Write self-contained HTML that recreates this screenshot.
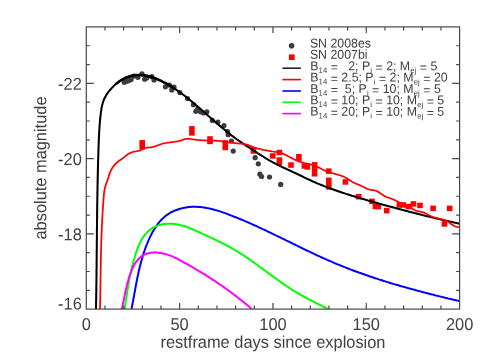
<!DOCTYPE html><html><head><meta charset="utf-8"><title>Magnetar light curves</title>
<style>html,body{margin:0;padding:0;background:#fff}svg{display:block;will-change:transform}text{font-family:"Liberation Sans",sans-serif;fill:#404040}</style></head><body>
<svg width="485" height="364" viewBox="0 0 485 364">
<rect width="485" height="364" fill="#fff"/>
<defs><clipPath id="c"><rect x="86.3" y="26.9" width="373.3" height="282.2"/></clipPath></defs>
<g clip-path="url(#c)">
<g fill="#3c3c3c">
<circle cx="128.8" cy="80.6" r="2.6"/>
<circle cx="124.3" cy="82.3" r="2.6"/>
<circle cx="126.8" cy="81.3" r="2.6"/>
<circle cx="131.1" cy="79.6" r="2.6"/>
<circle cx="134.2" cy="76.1" r="2.6"/>
<circle cx="137.9" cy="77.3" r="2.6"/>
<circle cx="142.0" cy="73.9" r="2.6"/>
<circle cx="144.7" cy="79.2" r="2.6"/>
<circle cx="146.6" cy="77.9" r="2.6"/>
<circle cx="151.9" cy="76.7" r="2.6"/>
<circle cx="154.0" cy="80.0" r="2.6"/>
<circle cx="165.4" cy="86.8" r="2.6"/>
<circle cx="169.4" cy="85.1" r="2.6"/>
<circle cx="171.8" cy="89.9" r="2.6"/>
<circle cx="174.0" cy="87.0" r="2.6"/>
<circle cx="179.8" cy="92.6" r="2.6"/>
<circle cx="187.5" cy="98.5" r="2.6"/>
<circle cx="193.4" cy="104.7" r="2.6"/>
<circle cx="195.8" cy="111.3" r="2.6"/>
<circle cx="197.7" cy="109.0" r="2.6"/>
<circle cx="200.6" cy="111.8" r="2.6"/>
<circle cx="203.5" cy="113.0" r="2.6"/>
<circle cx="206.9" cy="111.8" r="2.6"/>
<circle cx="212.3" cy="120.4" r="2.6"/>
<circle cx="217.9" cy="122.0" r="2.6"/>
<circle cx="224.0" cy="125.6" r="2.6"/>
<circle cx="227.6" cy="131.5" r="2.6"/>
<circle cx="228.2" cy="134.7" r="2.6"/>
<circle cx="231.5" cy="141.0" r="2.6"/>
<circle cx="233.2" cy="151.1" r="2.6"/>
<circle cx="255.1" cy="157.7" r="2.6"/>
<circle cx="258.3" cy="163.8" r="2.6"/>
<circle cx="259.9" cy="174.2" r="2.6"/>
<circle cx="261.6" cy="176.5" r="2.6"/>
<circle cx="269.5" cy="177.0" r="2.6"/>
<circle cx="280.7" cy="184.4" r="2.6"/>
</g><g fill="#ff0000">
<rect x="139.4" y="140.1" width="5.6" height="9.4"/>
<rect x="189.1" y="126.1" width="5.6" height="9.5"/>
<rect x="207.2" y="136.2" width="5.6" height="8.0"/>
<rect x="222.5" y="140.2" width="5.6" height="10.0"/>
<rect x="250.6" y="147.1" width="5.6" height="6.6"/>
<rect x="270.0" y="153.2" width="5.6" height="5.5"/>
<rect x="276.6" y="149.7" width="5.6" height="5.5"/>
<rect x="276.6" y="157.3" width="5.6" height="8.0"/>
<rect x="288.2" y="162.3" width="5.6" height="5.5"/>
<rect x="296.1" y="154.0" width="5.6" height="7.0"/>
<rect x="301.6" y="163.2" width="5.6" height="5.5"/>
<rect x="304.5" y="164.2" width="5.6" height="5.5"/>
<rect x="311.8" y="162.1" width="5.6" height="14.4"/>
<rect x="326.0" y="168.4" width="5.6" height="5.5"/>
<rect x="326.0" y="177.6" width="5.6" height="12.0"/>
<rect x="342.6" y="179.2" width="5.6" height="5.5"/>
<rect x="355.9" y="193.9" width="5.6" height="5.5"/>
<rect x="369.2" y="198.6" width="5.6" height="5.5"/>
<rect x="372.7" y="203.6" width="5.6" height="5.5"/>
<rect x="375.4" y="203.9" width="5.6" height="5.5"/>
<rect x="383.9" y="207.9" width="5.6" height="5.5"/>
<rect x="396.6" y="202.2" width="5.6" height="5.5"/>
<rect x="400.5" y="202.2" width="5.6" height="5.5"/>
<rect x="405.8" y="203.8" width="5.6" height="5.5"/>
<rect x="410.7" y="201.2" width="5.6" height="5.5"/>
<rect x="417.2" y="202.7" width="5.6" height="5.5"/>
<rect x="430.3" y="205.6" width="5.6" height="5.5"/>
<rect x="446.9" y="205.6" width="5.6" height="5.5"/>
<rect x="441.6" y="221.2" width="5.6" height="5.5"/>
</g>
<g fill="none" stroke-linejoin="round" stroke-linecap="butt">
<path d="M96.0 309.5 L96.0 308.0 L96.0 306.5 L96.1 305.0 L96.1 303.5 L96.1 302.0 L96.1 300.5 L96.2 299.0 L96.2 297.4 L96.2 295.9 L96.2 294.4 L96.3 292.9 L96.3 291.4 L96.3 289.9 L96.3 288.4 L96.3 286.9 L96.4 285.4 L96.4 283.9 L96.4 282.4 L96.4 280.9 L96.4 279.4 L96.5 277.9 L96.5 276.4 L96.5 274.9 L96.5 273.3 L96.5 271.8 L96.5 270.3 L96.6 268.8 L96.6 267.3 L96.6 265.8 L96.6 264.3 L96.6 262.8 L96.6 261.3 L96.7 259.8 L96.7 258.3 L96.7 256.8 L96.7 255.3 L96.7 253.8 L96.7 252.2 L96.7 250.7 L96.8 249.2 L96.8 247.7 L96.8 246.2 L96.8 244.7 L96.8 243.2 L96.8 241.7 L96.8 240.2 L96.9 238.7 L96.9 237.2 L96.9 235.7 L96.9 234.2 L96.9 232.7 L96.9 231.2 L96.9 229.6 L97.0 228.1 L97.0 226.6 L97.0 225.1 L97.0 223.6 L97.0 222.1 L97.0 220.6 L97.1 219.1 L97.1 217.6 L97.1 216.1 L97.1 214.6 L97.1 213.1 L97.1 211.6 L97.2 210.1 L97.2 208.6 L97.2 207.0 L97.2 205.5 L97.2 204.0 L97.3 202.5 L97.3 201.0 L97.3 199.5 L97.3 198.0 L97.4 196.5 L97.4 195.0 L97.4 193.5 L97.4 192.0 L97.5 190.5 L97.5 189.0 L97.5 187.5 L97.5 186.0 L97.6 184.4 L97.6 182.9 L97.6 181.4 L97.7 179.9 L97.7 178.4 L97.7 176.9 L97.8 175.4 L97.8 173.9 L97.8 172.4 L97.9 170.9 L97.9 169.4 L97.9 167.9 L98.0 166.4 L98.0 164.9 L98.1 163.4 L98.1 161.9 L98.1 160.4 L98.2 158.8 L98.2 157.3 L98.3 155.8 L98.3 154.3 L98.4 152.8 L98.4 151.3 L98.5 149.8 L98.5 148.3 L98.6 146.8 L98.6 145.3 L98.7 143.8 L98.7 142.3 L98.8 140.8 L98.8 139.3 L98.9 137.8 L99.0 136.3 L99.1 134.8 L99.1 133.3 L99.2 131.8 L99.3 130.3 L99.4 128.7 L99.5 127.2 L99.6 125.7 L99.7 124.2 L99.8 122.7 L100.0 121.2 L100.1 119.7 L100.3 118.2 L100.4 116.7 L100.6 115.2 L100.8 113.7 L100.9 112.2 L101.2 110.7 L101.4 109.2 L101.6 107.7 L101.9 106.2 L102.3 104.8 L102.7 103.3 L103.1 101.9 L103.6 100.5 L104.1 99.2 L104.8 97.8 L105.5 96.5 L106.2 95.2 L107.0 93.9 L107.9 92.7 L108.8 91.5 L109.7 90.3 L110.7 89.2 L111.7 88.1 L112.8 87.0 L113.9 85.9 L115.0 84.8 L116.1 83.8 L117.3 82.9 L118.5 82.0 L119.7 81.1 L121.0 80.3 L122.3 79.5 L123.6 78.8 L125.0 78.1 L126.4 77.5 L127.8 77.0 L129.3 76.5 L130.7 76.1 L132.2 75.8 L133.6 75.5 L135.1 75.3 L136.6 75.1 L138.1 75.0 L139.6 75.0 L141.0 75.1 L142.5 75.2 L144.0 75.3 L145.5 75.6 L146.9 75.8 L148.4 76.2 L149.8 76.5 L151.3 77.0 L152.7 77.4 L154.1 77.9 L155.6 78.5 L157.0 79.0 L158.4 79.6 L159.8 80.3 L161.2 80.9 L162.5 81.6 L163.9 82.3 L165.2 83.0 L166.6 83.7 L167.9 84.5 L169.2 85.2 L170.5 86.0 L171.8 86.8 L173.1 87.6 L174.3 88.4 L175.6 89.3 L176.8 90.1 L178.1 91.0 L179.3 91.8 L180.5 92.7 L181.7 93.6 L182.9 94.5 L184.1 95.4 L185.3 96.3 L186.5 97.2 L187.7 98.2 L188.8 99.1 L190.0 100.1 L191.2 101.0 L192.3 102.0 L193.5 102.9 L194.6 103.9 L195.8 104.9 L196.9 105.9 L198.0 106.8 L199.2 107.8 L200.3 108.8 L201.4 109.8 L202.6 110.8 L203.7 111.8 L204.8 112.8 L206.0 113.8 L207.1 114.8 L208.2 115.8 L209.4 116.8 L210.5 117.8 L211.6 118.8 L212.8 119.8 L213.9 120.8 L215.0 121.7 L216.2 122.7 L217.3 123.7 L218.5 124.7 L219.6 125.6 L220.8 126.6 L222.0 127.6 L223.1 128.5 L224.3 129.5 L225.4 130.4 L226.6 131.4 L227.8 132.4 L228.9 133.3 L230.1 134.2 L231.3 135.2 L232.5 136.1 L233.7 137.0 L234.9 137.9 L236.1 138.8 L237.3 139.7 L238.5 140.5 L239.8 141.4 L241.0 142.2 L242.3 143.1 L243.5 143.9 L244.8 144.7 L246.0 145.6 L247.3 146.4 L248.6 147.2 L249.8 148.0 L251.1 148.9 L252.4 149.7 L253.6 150.5 L254.9 151.3 L256.2 152.2 L257.4 153.0 L258.7 153.8 L259.9 154.6 L261.2 155.4 L262.5 156.2 L263.8 157.0 L265.1 157.8 L266.3 158.6 L267.6 159.4 L268.9 160.1 L270.2 160.9 L271.6 161.6 L272.9 162.3 L274.2 163.0 L275.5 163.7 L276.9 164.4 L278.2 165.1 L279.6 165.8 L280.9 166.4 L282.3 167.1 L283.7 167.7 L285.0 168.3 L286.4 169.0 L287.8 169.6 L289.1 170.2 L290.5 170.9 L291.9 171.5 L293.2 172.1 L294.6 172.8 L296.0 173.4 L297.3 174.0 L298.7 174.7 L300.1 175.3 L301.4 176.0 L302.8 176.6 L304.1 177.3 L305.5 178.0 L306.8 178.6 L308.2 179.3 L309.6 179.9 L310.9 180.5 L312.3 181.2 L313.7 181.8 L315.1 182.4 L316.4 183.0 L317.8 183.6 L319.2 184.1 L320.6 184.7 L322.0 185.3 L323.4 185.8 L324.8 186.4 L326.2 186.9 L327.6 187.5 L329.0 188.0 L330.4 188.5 L331.8 189.0 L333.3 189.5 L334.7 190.0 L336.1 190.5 L337.5 191.0 L338.9 191.5 L340.4 192.0 L341.8 192.5 L343.2 192.9 L344.7 193.4 L346.1 193.9 L347.5 194.3 L349.0 194.8 L350.4 195.2 L351.9 195.7 L353.3 196.1 L354.7 196.5 L356.2 197.0 L357.6 197.4 L359.1 197.8 L360.5 198.3 L362.0 198.7 L363.4 199.1 L364.9 199.5 L366.3 199.9 L367.8 200.4 L369.2 200.8 L370.7 201.2 L372.1 201.6 L373.6 202.0 L375.0 202.4 L376.5 202.8 L377.9 203.2 L379.4 203.7 L380.8 204.1 L382.3 204.5 L383.7 204.9 L385.2 205.3 L386.6 205.7 L388.1 206.1 L389.5 206.5 L391.0 206.8 L392.4 207.2 L393.9 207.6 L395.4 208.0 L396.8 208.4 L398.3 208.8 L399.7 209.2 L401.2 209.6 L402.6 210.0 L404.1 210.3 L405.5 210.7 L407.0 211.1 L408.5 211.5 L409.9 211.9 L411.4 212.2 L412.8 212.6 L414.3 213.0 L415.8 213.3 L417.2 213.7 L418.7 214.1 L420.1 214.4 L421.6 214.8 L423.1 215.2 L424.5 215.5 L426.0 215.9 L427.4 216.3 L428.9 216.6 L430.4 217.0 L431.8 217.3 L433.3 217.7 L434.8 218.0 L436.2 218.4 L437.7 218.7 L439.2 219.1 L440.6 219.4 L442.1 219.8 L443.6 220.1 L445.0 220.5 L446.5 220.8 L448.0 221.1 L449.4 221.5 L450.9 221.8 L452.4 222.1 L453.8 222.5 L455.3 222.8 L456.8 223.1 L458.3 223.5 L459.7 223.8" stroke="#000" stroke-width="2.05"/>
<path d="M116.1 83.8 L117.3 82.9 L118.5 82.0 L119.7 81.1 L121.0 80.3 L122.3 79.5 L123.6 78.8 L125.0 78.1 L126.4 77.5 L127.8 77.0 L129.3 76.5 L130.7 76.1 L132.2 75.8 L133.6 75.5 L135.1 75.3 L136.6 75.1 L138.1 75.0 L139.6 75.0 L141.0 75.1 L142.5 75.2 L144.0 75.3 L145.5 75.6 L146.9 75.8 L148.4 76.2 L149.8 76.5 L151.3 77.0 L152.7 77.4 L154.1 77.9 L155.6 78.5 L157.0 79.0 L158.4 79.6 L159.8 80.3 L161.2 80.9 L162.5 81.6 L163.9 82.3 L165.2 83.0 L166.6 83.7 L167.9 84.5 L169.2 85.2 L170.5 86.0 L171.8 86.8 L173.1 87.6" stroke="#000" stroke-width="2.55"/>
<path d="M100.0 309.5 L100.0 308.5 L100.0 307.5 L100.1 306.5 L100.1 305.5 L100.1 304.5 L100.1 303.5 L100.1 302.5 L100.2 301.5 L100.2 300.5 L100.2 299.5 L100.2 298.5 L100.2 297.5 L100.3 296.5 L100.3 295.5 L100.3 294.5 L100.3 293.5 L100.3 292.5 L100.3 291.5 L100.4 290.5 L100.4 289.5 L100.4 288.5 L100.4 287.5 L100.4 286.5 L100.4 285.5 L100.5 284.5 L100.5 283.5 L100.5 282.4 L100.5 281.4 L100.5 280.4 L100.5 279.4 L100.5 278.4 L100.6 277.4 L100.6 276.4 L100.6 275.4 L100.6 274.4 L100.6 273.4 L100.6 272.4 L100.7 271.4 L100.7 270.4 L100.7 269.4 L100.7 268.4 L100.7 267.4 L100.7 266.4 L100.8 265.4 L100.8 264.4 L100.8 263.4 L100.8 262.4 L100.8 261.4 L100.8 260.4 L100.9 259.4 L100.9 258.4 L100.9 257.4 L100.9 256.4 L100.9 255.4 L101.0 254.4 L101.0 253.4 L101.0 252.4 L101.0 251.4 L101.1 250.4 L101.1 249.4 L101.1 248.4 L101.1 247.4 L101.2 246.4 L101.2 245.4 L101.2 244.4 L101.2 243.4 L101.3 242.4 L101.3 241.4 L101.3 240.4 L101.4 239.4 L101.4 238.4 L101.4 237.3 L101.5 236.3 L101.5 235.3 L101.5 234.3 L101.6 233.3 L101.6 232.3 L101.7 231.3 L101.7 230.3 L101.7 229.3 L101.8 228.3 L101.8 227.3 L101.9 226.3 L101.9 225.3 L102.0 224.3 L102.0 223.3 L102.1 222.3 L102.1 221.3 L102.2 220.3 L102.2 219.3 L102.3 218.3 L102.3 217.3 L102.4 216.3 L102.4 215.3 L102.5 214.3 L102.5 213.3 L102.6 212.3 L102.7 211.3 L102.7 210.3 L102.8 209.3 L102.9 208.3 L102.9 207.3 L103.0 206.3 L103.1 205.3 L103.2 204.3 L103.2 203.3 L103.3 202.3 L103.4 201.3 L103.4 200.3 L103.5 199.3 L103.6 198.3 L103.7 197.3 L103.8 196.3 L103.8 195.3 L103.9 194.3 L104.0 193.3 L104.1 192.3 L104.3 191.3 L104.4 190.3 L104.6 189.3 L104.8 188.4 L105.0 187.4 L105.3 186.4 L105.6 185.5 L105.9 184.5 L106.2 183.6 L106.6 182.6 L107.0 181.7 L107.3 180.8 L107.7 179.8 L108.0 178.9 L108.3 177.9 L108.6 177.0 L108.8 176.0 L109.1 175.0 L109.4 174.1 L109.8 173.2 L110.1 172.2 L110.5 171.3 L111.0 170.4 L111.4 169.5 L111.9 168.6 L112.4 167.7 L113.0 166.9 L113.6 166.1 L114.2 165.3 L114.9 164.5 L115.5 163.8 L116.3 163.1 L117.0 162.5 L117.8 161.8 L118.6 161.2 L119.4 160.6 L120.2 160.0 L121.0 159.5 L121.8 158.9 L122.7 158.3 L123.5 157.7 L124.3 157.1 L125.1 156.4 L125.8 155.8 L126.6 155.2 L127.4 154.6 L128.2 154.0 L129.1 153.5 L130.0 153.0 L130.9 152.6 L131.8 152.3 L132.8 152.0 L133.8 151.7 L134.8 151.5 L135.8 151.3 L136.8 151.2 L137.8 151.0 L138.7 150.8 L139.7 150.6 L140.6 150.2 L141.5 149.8 L142.4 149.3 L143.3 148.8 L144.2 148.4 L145.1 148.0 L146.1 147.8 L147.1 147.7 L148.1 147.6 L149.1 147.5 L150.1 147.4 L151.1 147.3 L152.1 147.1 L153.0 146.9 L154.0 146.6 L155.0 146.3 L155.9 146.0 L156.8 145.6 L157.8 145.3 L158.7 145.0 L159.7 144.6 L160.6 144.3 L161.6 144.0 L162.5 143.7 L163.5 143.5 L164.5 143.2 L165.5 143.0 L166.5 142.9 L167.4 142.7 L168.4 142.6 L169.4 142.5 L170.4 142.3 L171.4 142.2 L172.4 142.1 L173.4 142.0 L174.4 141.9 L175.4 141.7 L176.4 141.6 L177.4 141.4 L178.4 141.2 L179.3 141.0 L180.3 140.7 L181.3 140.4 L182.2 140.1 L183.1 139.7 L184.1 139.4 L185.1 139.1 L186.0 138.9 L187.0 138.8 L188.0 138.7 L189.0 138.8 L190.0 138.9 L191.0 139.0 L192.0 139.2 L193.0 139.4 L194.0 139.5 L195.0 139.7 L196.0 139.8 L197.0 139.9 L198.0 140.0 L199.0 140.1 L200.0 140.2 L201.0 140.3 L202.0 140.3 L203.0 140.4 L204.0 140.4 L205.0 140.4 L206.0 140.5 L207.0 140.5 L208.0 140.5 L209.0 140.5 L210.0 140.5 L211.0 140.6 L212.0 140.6 L213.0 140.6 L214.0 140.7 L215.0 140.7 L216.0 140.7 L217.0 140.8 L218.0 140.9 L219.0 140.9 L220.0 141.0 L221.0 141.1 L222.0 141.3 L223.0 141.4 L224.0 141.5 L224.9 141.7 L225.9 141.8 L226.9 142.0 L227.9 142.1 L228.9 142.3 L229.9 142.4 L230.9 142.6 L231.9 142.7 L232.9 142.9 L233.9 143.0 L234.9 143.1 L235.9 143.2 L236.9 143.3 L237.9 143.4 L238.9 143.5 L239.9 143.5 L240.9 143.6 L241.9 143.7 L242.9 143.8 L243.9 144.0 L244.9 144.2 L245.8 144.4 L246.8 144.6 L247.8 144.9 L248.7 145.3 L249.6 145.6 L250.6 146.0 L251.5 146.4 L252.4 146.8 L253.4 147.1 L254.3 147.5 L255.3 147.8 L256.2 148.1 L257.2 148.4 L258.1 148.7 L259.1 148.9 L260.1 149.2 L261.1 149.4 L262.0 149.6 L263.0 149.8 L264.0 150.0 L265.0 150.2 L266.0 150.4 L266.9 150.6 L267.9 150.7 L268.9 150.9 L269.9 151.1 L270.9 151.2 L271.9 151.4 L272.9 151.5 L273.9 151.7 L274.9 151.8 L275.9 152.0 L276.9 152.1 L277.9 152.3 L278.9 152.5 L279.8 152.7 L280.8 153.0 L281.8 153.3 L282.7 153.6 L283.6 154.0 L284.5 154.4 L285.4 154.8 L286.3 155.2 L287.2 155.7 L288.1 156.2 L289.0 156.7 L289.9 157.2 L290.8 157.6 L291.7 158.1 L292.5 158.6 L293.4 159.0 L294.3 159.5 L295.3 159.9 L296.2 160.3 L297.1 160.7 L298.0 161.1 L298.9 161.4 L299.9 161.7 L300.8 162.1 L301.8 162.3 L302.8 162.6 L303.7 162.9 L304.7 163.1 L305.7 163.3 L306.7 163.5 L307.7 163.7 L308.7 163.9 L309.6 164.1 L310.6 164.4 L311.6 164.6 L312.6 164.9 L313.5 165.2 L314.4 165.5 L315.4 165.9 L316.3 166.3 L317.2 166.7 L318.1 167.1 L319.0 167.6 L319.9 168.1 L320.8 168.5 L321.6 169.0 L322.5 169.5 L323.4 169.9 L324.3 170.3 L325.3 170.7 L326.2 171.1 L327.1 171.5 L328.1 171.8 L329.0 172.1 L330.0 172.4 L330.9 172.7 L331.9 173.0 L332.9 173.2 L333.8 173.5 L334.8 173.8 L335.8 174.1 L336.7 174.3 L337.7 174.6 L338.7 174.9 L339.6 175.2 L340.6 175.5 L341.5 175.9 L342.4 176.2 L343.4 176.6 L344.3 177.0 L345.2 177.5 L346.1 177.9 L346.9 178.4 L347.8 179.0 L348.6 179.5 L349.5 180.0 L350.3 180.6 L351.2 181.1 L352.0 181.7 L352.9 182.2 L353.8 182.6 L354.7 183.1 L355.6 183.5 L356.5 183.9 L357.4 184.2 L358.4 184.6 L359.3 185.0 L360.2 185.4 L361.1 185.8 L362.0 186.2 L363.0 186.7 L363.9 187.1 L364.7 187.6 L365.6 188.1 L366.6 188.5 L367.5 188.9 L368.4 189.2 L369.4 189.5 L370.3 189.8 L371.3 189.9 L372.3 190.1 L373.3 190.2 L374.3 190.3 L375.3 190.5 L376.2 190.8 L377.1 191.2 L378.0 191.7 L378.8 192.2 L379.7 192.8 L380.5 193.4 L381.3 194.0 L382.2 194.6 L383.0 195.1 L383.9 195.7 L384.7 196.1 L385.6 196.6 L386.6 197.0 L387.5 197.3 L388.5 197.7 L389.4 198.0 L390.4 198.3 L391.3 198.6 L392.2 199.0 L393.2 199.4 L394.1 199.8 L395.0 200.2 L395.9 200.7 L396.8 201.1 L397.6 201.6 L398.5 202.1 L399.4 202.5 L400.3 203.0 L401.3 203.4 L402.2 203.7 L403.2 204.0 L404.1 204.3 L405.1 204.6 L406.0 205.0 L407.0 205.3 L407.9 205.7 L408.8 206.1 L409.7 206.6 L410.5 207.2 L411.3 207.8 L412.1 208.4 L412.9 209.0 L413.8 209.5 L414.6 210.0 L415.5 210.5 L416.4 210.8 L417.4 211.0 L418.4 211.3 L419.4 211.4 L420.4 211.6 L421.4 211.8 L422.3 212.1 L423.3 212.4 L424.2 212.7 L425.1 213.1 L426.0 213.6 L426.9 214.1 L427.8 214.6 L428.7 215.0 L429.6 215.5 L430.5 216.0 L431.4 216.4 L432.3 216.7 L433.2 217.1 L434.2 217.4 L435.2 217.7 L436.1 217.9 L437.1 218.2 L438.1 218.4 L439.1 218.6 L440.1 218.9 L441.0 219.1 L442.0 219.4 L443.0 219.6 L443.9 219.9 L444.9 220.3 L445.8 220.7 L446.7 221.1 L447.6 221.5 L448.5 222.1 L449.3 222.6 L450.2 223.2 L451.0 223.9 L451.9 224.5 L452.7 225.1 L453.6 225.6 L454.4 226.1 L455.4 226.5 L456.3 226.8 L457.3 227.0 L458.4 227.0 L459.5 226.9" stroke="#ff0000" stroke-width="1.75"/>
<path d="M131.5 309.5 L131.7 308.0 L132.0 306.5 L132.3 305.0 L132.6 303.5 L132.9 302.0 L133.1 300.5 L133.4 299.0 L133.7 297.5 L134.0 296.0 L134.2 294.5 L134.5 293.0 L134.8 291.6 L135.0 290.1 L135.3 288.6 L135.6 287.1 L135.8 285.7 L136.1 284.2 L136.4 282.7 L136.7 281.2 L137.0 279.8 L137.3 278.3 L137.6 276.8 L137.9 275.4 L138.2 273.9 L138.5 272.5 L138.8 271.0 L139.2 269.6 L139.5 268.1 L139.9 266.6 L140.2 265.2 L140.6 263.7 L141.0 262.3 L141.4 260.9 L141.8 259.4 L142.2 258.0 L142.6 256.5 L143.1 255.1 L143.5 253.6 L144.0 252.2 L144.5 250.8 L145.0 249.3 L145.5 247.9 L146.0 246.4 L146.6 245.0 L147.2 243.6 L147.7 242.1 L148.4 240.7 L149.0 239.3 L149.6 237.9 L150.3 236.5 L151.0 235.1 L151.7 233.7 L152.4 232.3 L153.2 231.0 L154.0 229.7 L154.8 228.4 L155.6 227.1 L156.5 225.8 L157.4 224.6 L158.3 223.4 L159.2 222.2 L160.2 221.1 L161.2 220.0 L162.2 219.0 L163.3 217.9 L164.4 216.9 L165.5 216.0 L166.7 215.1 L167.9 214.3 L169.1 213.5 L170.4 212.7 L171.7 212.0 L173.0 211.4 L174.4 210.7 L175.8 210.2 L177.2 209.7 L178.6 209.2 L180.0 208.7 L181.5 208.4 L182.9 208.0 L184.4 207.7 L185.9 207.4 L187.4 207.2 L188.9 207.0 L190.4 206.9 L191.9 206.8 L193.4 206.8 L194.9 206.8 L196.4 206.8 L197.9 206.9 L199.4 207.0 L200.8 207.1 L202.3 207.3 L203.8 207.5 L205.3 207.7 L206.8 208.0 L208.2 208.2 L209.7 208.6 L211.2 208.9 L212.7 209.3 L214.1 209.7 L215.6 210.1 L217.0 210.5 L218.5 210.9 L219.9 211.4 L221.4 211.9 L222.8 212.4 L224.3 212.9 L225.7 213.4 L227.1 213.9 L228.6 214.5 L230.0 215.0 L231.4 215.6 L232.8 216.1 L234.3 216.7 L235.7 217.2 L237.1 217.8 L238.5 218.4 L239.9 219.0 L241.3 219.5 L242.7 220.1 L244.1 220.7 L245.5 221.3 L246.9 221.9 L248.3 222.5 L249.7 223.1 L251.0 223.7 L252.4 224.4 L253.8 225.0 L255.2 225.6 L256.6 226.2 L258.0 226.9 L259.3 227.5 L260.7 228.1 L262.1 228.8 L263.4 229.4 L264.8 230.0 L266.2 230.7 L267.5 231.3 L268.9 232.0 L270.3 232.6 L271.6 233.3 L273.0 233.9 L274.3 234.6 L275.7 235.3 L277.1 235.9 L278.4 236.6 L279.8 237.2 L281.1 237.9 L282.5 238.6 L283.8 239.2 L285.2 239.9 L286.5 240.6 L287.9 241.2 L289.3 241.9 L290.6 242.5 L292.0 243.2 L293.3 243.9 L294.7 244.5 L296.0 245.2 L297.4 245.9 L298.7 246.5 L300.1 247.2 L301.4 247.8 L302.8 248.5 L304.1 249.1 L305.5 249.8 L306.9 250.5 L308.2 251.1 L309.6 251.7 L310.9 252.4 L312.3 253.0 L313.7 253.7 L315.0 254.3 L316.4 255.0 L317.7 255.6 L319.1 256.2 L320.5 256.8 L321.8 257.5 L323.2 258.1 L324.6 258.7 L326.0 259.3 L327.3 259.9 L328.7 260.5 L330.1 261.1 L331.5 261.7 L332.9 262.3 L334.2 262.9 L335.6 263.5 L337.0 264.1 L338.4 264.6 L339.8 265.2 L341.2 265.8 L342.6 266.3 L344.0 266.9 L345.4 267.4 L346.8 268.0 L348.2 268.5 L349.6 269.1 L351.0 269.6 L352.4 270.2 L353.9 270.7 L355.3 271.2 L356.7 271.7 L358.1 272.2 L359.5 272.8 L360.9 273.3 L362.4 273.8 L363.8 274.3 L365.2 274.8 L366.6 275.3 L368.1 275.8 L369.5 276.3 L370.9 276.7 L372.4 277.2 L373.8 277.7 L375.2 278.2 L376.7 278.6 L378.1 279.1 L379.5 279.6 L381.0 280.0 L382.4 280.5 L383.9 281.0 L385.3 281.4 L386.8 281.9 L388.2 282.3 L389.6 282.7 L391.1 283.2 L392.5 283.6 L394.0 284.1 L395.4 284.5 L396.9 284.9 L398.3 285.3 L399.8 285.8 L401.2 286.2 L402.7 286.6 L404.2 287.0 L405.6 287.4 L407.1 287.8 L408.5 288.2 L410.0 288.6 L411.4 289.0 L412.9 289.4 L414.4 289.8 L415.8 290.2 L417.3 290.6 L418.7 291.0 L420.2 291.4 L421.7 291.8 L423.1 292.2 L424.6 292.6 L426.0 292.9 L427.5 293.3 L429.0 293.7 L430.4 294.1 L431.9 294.4 L433.4 294.8 L434.8 295.2 L436.3 295.5 L437.7 295.9 L439.2 296.2 L440.7 296.6 L442.1 297.0 L443.6 297.3 L445.1 297.7 L446.5 298.0 L448.0 298.4 L449.5 298.7 L450.9 299.1 L452.4 299.4 L453.8 299.8 L455.3 300.1 L456.8 300.4 L458.2 300.8 L459.7 301.1" stroke="#0000ff" stroke-width="2"/>
<path d="M124.6 309.5 L124.9 308.0 L125.1 306.4 L125.3 304.9 L125.5 303.4 L125.7 301.9 L126.0 300.4 L126.2 298.9 L126.4 297.4 L126.6 296.0 L126.8 294.5 L127.1 293.0 L127.3 291.5 L127.5 290.1 L127.7 288.6 L128.0 287.1 L128.2 285.6 L128.5 284.2 L128.7 282.7 L129.0 281.3 L129.3 279.8 L129.5 278.3 L129.8 276.9 L130.1 275.4 L130.4 274.0 L130.7 272.5 L131.0 271.0 L131.4 269.6 L131.7 268.1 L132.1 266.6 L132.4 265.2 L132.8 263.7 L133.2 262.2 L133.6 260.7 L134.0 259.3 L134.5 257.8 L134.9 256.3 L135.4 254.8 L135.9 253.3 L136.4 251.8 L136.9 250.3 L137.4 248.9 L138.0 247.4 L138.6 245.9 L139.2 244.5 L139.9 243.1 L140.6 241.7 L141.3 240.4 L142.0 239.1 L142.8 237.8 L143.6 236.5 L144.5 235.3 L145.4 234.2 L146.4 233.1 L147.3 232.0 L148.4 231.1 L149.5 230.1 L150.6 229.3 L151.8 228.5 L153.0 227.7 L154.3 227.1 L155.6 226.4 L156.9 225.9 L158.3 225.4 L159.7 225.0 L161.1 224.6 L162.6 224.3 L164.1 224.1 L165.6 223.9 L167.0 223.8 L168.6 223.7 L170.1 223.7 L171.6 223.7 L173.1 223.8 L174.6 224.0 L176.1 224.2 L177.6 224.4 L179.0 224.7 L180.5 225.1 L182.0 225.5 L183.4 225.9 L184.9 226.3 L186.3 226.8 L187.8 227.3 L189.2 227.9 L190.6 228.5 L192.1 229.0 L193.5 229.6 L194.9 230.3 L196.3 230.9 L197.7 231.5 L199.1 232.2 L200.5 232.8 L201.9 233.4 L203.3 234.1 L204.7 234.7 L206.0 235.4 L207.4 236.0 L208.8 236.6 L210.2 237.3 L211.5 237.9 L212.9 238.6 L214.2 239.2 L215.6 239.9 L216.9 240.5 L218.3 241.2 L219.6 241.8 L221.0 242.5 L222.3 243.1 L223.6 243.8 L224.9 244.5 L226.3 245.2 L227.6 245.9 L228.9 246.6 L230.2 247.3 L231.5 248.0 L232.8 248.8 L234.1 249.5 L235.4 250.3 L236.7 251.0 L237.9 251.8 L239.2 252.6 L240.5 253.4 L241.7 254.2 L243.0 255.0 L244.3 255.9 L245.5 256.7 L246.8 257.6 L248.0 258.4 L249.3 259.3 L250.5 260.1 L251.7 261.0 L253.0 261.9 L254.2 262.7 L255.4 263.6 L256.7 264.5 L257.9 265.4 L259.1 266.3 L260.3 267.2 L261.6 268.1 L262.8 269.0 L264.0 269.9 L265.2 270.8 L266.4 271.7 L267.7 272.6 L268.9 273.5 L270.1 274.4 L271.3 275.3 L272.5 276.1 L273.7 277.0 L275.0 277.9 L276.2 278.8 L277.4 279.7 L278.6 280.5 L279.9 281.4 L281.1 282.3 L282.3 283.1 L283.6 284.0 L284.8 284.8 L286.1 285.7 L287.3 286.5 L288.6 287.3 L289.8 288.2 L291.1 289.0 L292.3 289.8 L293.6 290.6 L294.9 291.4 L296.2 292.2 L297.4 292.9 L298.7 293.7 L300.0 294.5 L301.3 295.2 L302.7 296.0 L304.0 296.7 L305.3 297.4 L306.6 298.1 L308.0 298.9 L309.3 299.6 L310.6 300.2 L312.0 300.9 L313.3 301.6 L314.7 302.3 L316.0 303.0 L317.4 303.7 L318.8 304.3 L320.1 305.0 L321.5 305.7 L322.8 306.4 L324.2 307.0 L325.5 307.7 L326.9 308.4 L328.2 309.1 L329.5 309.7" stroke="#00ff00" stroke-width="2"/>
<path d="M121.7 309.5 L122.0 308.0 L122.4 306.4 L122.7 304.9 L123.0 303.5 L123.3 302.0 L123.6 300.5 L123.9 299.1 L124.2 297.6 L124.5 296.1 L124.8 294.7 L125.1 293.3 L125.4 291.8 L125.7 290.4 L126.0 288.9 L126.4 287.5 L126.7 286.0 L127.1 284.6 L127.5 283.1 L127.8 281.7 L128.3 280.2 L128.7 278.7 L129.1 277.3 L129.6 275.8 L130.1 274.3 L130.7 272.8 L131.3 271.3 L131.9 269.8 L132.5 268.3 L133.2 266.9 L133.9 265.5 L134.7 264.1 L135.5 262.8 L136.3 261.6 L137.3 260.4 L138.2 259.2 L139.2 258.2 L140.3 257.2 L141.4 256.3 L142.6 255.6 L143.8 254.9 L145.1 254.3 L146.4 253.8 L147.8 253.4 L149.2 253.1 L150.6 252.8 L152.1 252.6 L153.6 252.6 L155.1 252.5 L156.6 252.6 L158.1 252.7 L159.7 252.9 L161.2 253.1 L162.7 253.4 L164.3 253.7 L165.8 254.1 L167.3 254.6 L168.7 255.1 L170.2 255.6 L171.6 256.1 L173.0 256.7 L174.4 257.4 L175.7 258.0 L177.1 258.7 L178.5 259.4 L179.8 260.1 L181.1 260.8 L182.4 261.5 L183.8 262.3 L185.1 263.0 L186.4 263.7 L187.7 264.5 L189.0 265.2 L190.3 266.0 L191.6 266.7 L192.9 267.5 L194.2 268.2 L195.5 269.0 L196.8 269.8 L198.1 270.5 L199.4 271.3 L200.7 272.1 L202.0 272.9 L203.3 273.6 L204.6 274.4 L205.8 275.2 L207.1 276.0 L208.4 276.8 L209.7 277.6 L210.9 278.5 L212.2 279.3 L213.5 280.1 L214.7 280.9 L216.0 281.8 L217.2 282.6 L218.5 283.5 L219.7 284.3 L221.0 285.2 L222.2 286.0 L223.5 286.9 L224.7 287.8 L225.9 288.7 L227.2 289.5 L228.4 290.4 L229.6 291.3 L230.8 292.2 L232.1 293.1 L233.3 294.0 L234.5 295.0 L235.7 295.9 L236.9 296.8 L238.1 297.7 L239.3 298.7 L240.5 299.6 L241.6 300.5 L242.8 301.5 L244.0 302.4 L245.2 303.4 L246.3 304.3 L247.5 305.3 L248.7 306.3 L249.8 307.2 L250.9 308.2 L252.1 309.2" stroke="#ff00ff" stroke-width="2"/>
</g></g>
<g stroke="#484848" stroke-width="1.2" fill="none">
<rect x="86.3" y="26.9" width="373.3" height="282.2"/>
<path d="M104.97 309.1v-3.5M104.97 26.9v3.5M123.63 309.1v-3.5M123.63 26.9v3.5M142.29 309.1v-3.5M142.29 26.9v3.5M160.96 309.1v-3.5M160.96 26.9v3.5M179.62 309.1v-6.0M179.62 26.9v6.0M198.29 309.1v-3.5M198.29 26.9v3.5M216.95 309.1v-3.5M216.95 26.9v3.5M235.62 309.1v-3.5M235.62 26.9v3.5M254.29 309.1v-3.5M254.29 26.9v3.5M272.95 309.1v-6.0M272.95 26.9v6.0M291.62 309.1v-3.5M291.62 26.9v3.5M310.28 309.1v-3.5M310.28 26.9v3.5M328.94 309.1v-3.5M328.94 26.9v3.5M347.61 309.1v-3.5M347.61 26.9v3.5M366.28 309.1v-6.0M366.28 26.9v6.0M384.94 309.1v-3.5M384.94 26.9v3.5M403.61 309.1v-3.5M403.61 26.9v3.5M422.27 309.1v-3.5M422.27 26.9v3.5M440.94 309.1v-3.5M440.94 26.9v3.5M86.3 290.29h3.5M459.6 290.29h-3.5M86.3 271.48h3.5M459.6 271.48h-3.5M86.3 252.67h3.5M459.6 252.67h-3.5M86.3 233.86h7.5M459.6 233.86h-7.5M86.3 215.05h3.5M459.6 215.05h-3.5M86.3 196.24h3.5M459.6 196.24h-3.5M86.3 177.43h3.5M459.6 177.43h-3.5M86.3 158.62h7.5M459.6 158.62h-7.5M86.3 139.81h3.5M459.6 139.81h-3.5M86.3 121.00h3.5M459.6 121.00h-3.5M86.3 102.19h3.5M459.6 102.19h-3.5M86.3 83.38h7.5M459.6 83.38h-7.5M86.3 64.57h3.5M459.6 64.57h-3.5M86.3 45.76h3.5M459.6 45.76h-3.5"/>
</g>
<g font-size="16.4">
<text transform="translate(86.30 330.05) rotate(0.05) scale(1 1.04)" text-anchor="middle">0</text>
<text transform="translate(179.62 330.05) rotate(0.05) scale(1 1.04)" text-anchor="middle">50</text>
<text transform="translate(272.95 330.05) rotate(0.05) scale(1 1.04)" text-anchor="middle">100</text>
<text transform="translate(366.28 330.05) rotate(0.05) scale(1 1.04)" text-anchor="middle">150</text>
<text transform="translate(459.60 330.05) rotate(0.05) scale(1 1.04)" text-anchor="middle">200</text>
<text transform="translate(81.8 89.68) rotate(0.05) scale(1 1.04)" text-anchor="end">-22</text>
<text transform="translate(81.8 164.92) rotate(0.05) scale(1 1.04)" text-anchor="end">-20</text>
<text transform="translate(81.8 240.16) rotate(0.05) scale(1 1.04)" text-anchor="end">-18</text>
<text transform="translate(81.8 309.40) rotate(0.05) scale(1 1.04)" text-anchor="end">-16</text>
<text transform="translate(273 347.8) rotate(0.05) scale(1 1.04)" text-anchor="middle">restframe days since explosion</text>
<text transform="translate(46.3 168) rotate(-89.95) scale(1 1.04)" text-anchor="middle">absolute magnitude</text>
</g>
<circle cx="291.6" cy="45.8" r="2.8" fill="#3c3c3c"/>
<rect x="288.9" y="54.4" width="5.8" height="5.6" fill="#ff0000"/>
<path d="M282.4 68.2H300.9" stroke="#222" stroke-width="1.6"/>
<path d="M282.4 79.6H300.9" stroke="#ff0000" stroke-width="1.6"/>
<path d="M282.4 91.0H300.9" stroke="#0000ff" stroke-width="1.6"/>
<path d="M282.4 102.3H300.9" stroke="#00ff00" stroke-width="1.6"/>
<path d="M282.4 113.6H300.9" stroke="#ff00ff" stroke-width="1.6"/>
<g font-size="12.35" style="white-space:pre">
<text transform="translate(309.9 47.40) rotate(0.05) scale(1 1.04)">SN 2008es</text>
<text transform="translate(309.9 58.77) rotate(0.05) scale(1 1.04)">SN 2007bi</text>
<text xml:space="preserve" transform="translate(310.2 70.14) rotate(0.05) scale(1 1.04)"><tspan>B</tspan><tspan font-size="7.8" dx="0.2" dy="2.70">14</tspan><tspan dy="-2.70"> </tspan><tspan dy="1.40">=</tspan><tspan dy="-1.40">   2; P</tspan><tspan font-size="7.8" dx="0.2" dy="2.70">i</tspan><tspan dy="-2.70"> </tspan><tspan dy="1.40">=</tspan><tspan dy="-1.40"> 2; M</tspan><tspan font-size="7.8" dx="0.2" dy="2.70">ej</tspan><tspan dy="-2.70"> </tspan><tspan dy="1.40">=</tspan><tspan dy="-1.40"> 5</tspan></text>
<text xml:space="preserve" transform="translate(310.2 81.51) rotate(0.05) scale(1 1.04)"><tspan>B</tspan><tspan font-size="7.8" dx="0.2" dy="2.70">14</tspan><tspan dy="-2.70"> </tspan><tspan dy="1.40">=</tspan><tspan dy="-1.40"> 2.5; P</tspan><tspan font-size="7.8" dx="0.2" dy="2.70">i</tspan><tspan dy="-2.70"> </tspan><tspan dy="1.40">=</tspan><tspan dy="-1.40"> 2; M</tspan><tspan font-size="7.8" dx="0.2" dy="2.70">ej</tspan><tspan dy="-2.70"> </tspan><tspan dy="1.40">=</tspan><tspan dy="-1.40"> 20</tspan></text>
<text xml:space="preserve" transform="translate(310.2 92.88) rotate(0.05) scale(1 1.04)"><tspan>B</tspan><tspan font-size="7.8" dx="0.2" dy="2.70">14</tspan><tspan dy="-2.70"> </tspan><tspan dy="1.40">=</tspan><tspan dy="-1.40">  5; P</tspan><tspan font-size="7.8" dx="0.2" dy="2.70">i</tspan><tspan dy="-2.70"> </tspan><tspan dy="1.40">=</tspan><tspan dy="-1.40"> 10; M</tspan><tspan font-size="7.8" dx="0.2" dy="2.70">ej</tspan><tspan dy="-2.70"> </tspan><tspan dy="1.40">=</tspan><tspan dy="-1.40"> 5</tspan></text>
<text xml:space="preserve" transform="translate(310.2 104.25) rotate(0.05) scale(1 1.04)"><tspan>B</tspan><tspan font-size="7.8" dx="0.2" dy="2.70">14</tspan><tspan dy="-2.70"> </tspan><tspan dy="1.40">=</tspan><tspan dy="-1.40"> 10; P</tspan><tspan font-size="7.8" dx="0.2" dy="2.70">i</tspan><tspan dy="-2.70"> </tspan><tspan dy="1.40">=</tspan><tspan dy="-1.40"> 10; M</tspan><tspan font-size="7.8" dx="0.2" dy="2.70">ej</tspan><tspan dy="-2.70"> </tspan><tspan dy="1.40">=</tspan><tspan dy="-1.40"> 5</tspan></text>
<text xml:space="preserve" transform="translate(310.2 115.62) rotate(0.05) scale(1 1.04)"><tspan>B</tspan><tspan font-size="7.8" dx="0.2" dy="2.70">14</tspan><tspan dy="-2.70"> </tspan><tspan dy="1.40">=</tspan><tspan dy="-1.40"> 20; P</tspan><tspan font-size="7.8" dx="0.2" dy="2.70">i</tspan><tspan dy="-2.70"> </tspan><tspan dy="1.40">=</tspan><tspan dy="-1.40"> 10; M</tspan><tspan font-size="7.8" dx="0.2" dy="2.70">ej</tspan><tspan dy="-2.70"> </tspan><tspan dy="1.40">=</tspan><tspan dy="-1.40"> 5</tspan></text>
</g>
</svg></body></html>
